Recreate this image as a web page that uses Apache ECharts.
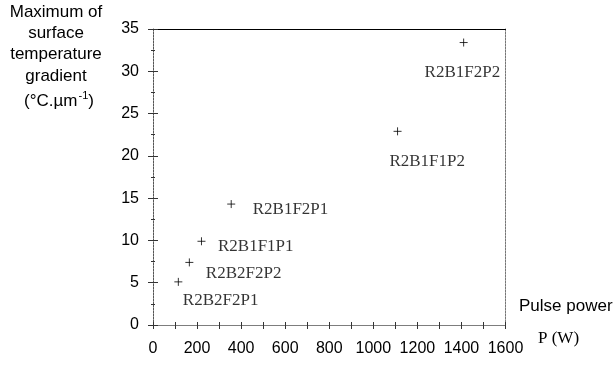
<!DOCTYPE html>
<html>
<head>
<meta charset="utf-8">
<script src="https://cdn.jsdelivr.net/npm/echarts@6/dist/echarts.min.js"></script>
<style>
  html, body { margin: 0; padding: 0; background: #ffffff; }
  #chart { width: 615px; height: 365px; }
</style>
</head>
<body>
<div id="chart"></div>
<script>
// Samples: pulse power (W) vs. maximum surface temperature gradient (°C/µm)
const sampleNames = ['R2B2F2P1', 'R2B2F2P2', 'R2B1F1P1', 'R2B1F2P1', 'R2B1F1P2', 'R2B1F2P2'];
const pulsePower  = [115, 165, 220, 355, 1110, 1410];
const maxGradient = [5.1, 7.4, 9.9, 14.3, 22.9, 33.4];

// Axis tick values
const xTicks = [0, 200, 400, 600, 800, 1000, 1200, 1400, 1600];
const yTicks = [0, 5, 10, 15, 20, 25, 30, 35];

// Label placement relative to each marker: [dx to text's left edge, dy to text's middle], px
const labelOffsets = [[5, 19], [17, 12], [17, 5.5], [22, 6], [-7.6, 30.5], [-38.6, 30.5]];

const MARK_SIZE = 8;
const SANS = '"Liberation Sans", Arial, sans-serif';
const SERIF = '"Liberation Serif", "Times New Roman", serif';
const TICK_COLOR = '#333';
const TEXT_COLOR = '#000';

const chart = echarts.init(document.getElementById('chart'), null, { renderer: 'canvas' });

const plainNumber = v => String(v);

const xBase = {
  type: 'value',
  min: xTicks[0],
  max: xTicks[xTicks.length - 1],
  interval: xTicks[1] - xTicks[0],
  splitLine: { show: false }
};
const yBase = {
  type: 'value',
  min: yTicks[0],
  max: yTicks[yTicks.length - 1],
  interval: yTicks[1] - yTicks[0],
  splitLine: { show: false }
};

const points = sampleNames.map((name, i) => ({
  name: name,
  value: [pulsePower[i], maxGradient[i]],
  label: {
    position: [labelOffsets[i][0] + MARK_SIZE / 2, labelOffsets[i][1] + MARK_SIZE / 2]
  }
}));

chart.setOption({
  animation: false,
  backgroundColor: '#ffffff',
  grid: { left: 153, right: 109.5, top: 29, bottom: 40, containLabel: false },
  xAxis: [
    Object.assign({}, xBase, {
      position: 'bottom',
      axisLine: { onZero: false, lineStyle: { color: '#7d7d7d', width: 1 } },
      axisTick: { show: true, length: 4, lineStyle: { color: TICK_COLOR } },
      minorTick: { show: true, splitNumber: 2, length: 4, lineStyle: { color: TICK_COLOR } },
      axisLabel: { fontFamily: SANS, fontSize: 16, color: TEXT_COLOR, margin: 16, formatter: plainNumber }
    }),
    Object.assign({}, xBase, {
      position: 'bottom',
      axisLine: { show: false, onZero: false },
      axisTick: { show: true, inside: true, length: 3, lineStyle: { color: TICK_COLOR } },
      minorTick: { show: true, splitNumber: 2, length: 3, lineStyle: { color: TICK_COLOR } },
      axisLabel: { show: false }
    }),
    Object.assign({}, xBase, {
      position: 'top',
      axisLine: { onZero: false, lineStyle: { color: '#000', width: 1.2 } },
      axisTick: { show: false },
      axisLabel: { show: false }
    })
  ],
  yAxis: [
    Object.assign({}, yBase, {
      position: 'left',
      axisLine: { onZero: false, lineStyle: { color: '#555', width: 1, type: [2, 1] } },
      axisTick: { show: true, length: 5, lineStyle: { color: TICK_COLOR } },
      minorTick: { show: true, splitNumber: 2, length: 2, lineStyle: { color: TICK_COLOR } },
      axisLabel: { fontFamily: SANS, fontSize: 16, color: TEXT_COLOR, margin: 14, formatter: plainNumber }
    }),
    Object.assign({}, yBase, {
      position: 'left',
      axisLine: { show: false, onZero: false },
      axisTick: { show: true, inside: true, length: 5, lineStyle: { color: TICK_COLOR } },
      minorTick: { show: true, splitNumber: 2, length: 2, lineStyle: { color: TICK_COLOR } },
      axisLabel: { show: false }
    }),
    Object.assign({}, yBase, {
      position: 'right',
      axisLine: { onZero: false, lineStyle: { color: '#777', width: 1, type: [2, 1] } },
      axisTick: { show: false },
      axisLabel: { show: false }
    })
  ],
  series: [{
    type: 'scatter',
    xAxisIndex: 0,
    yAxisIndex: 0,
    symbol: 'path://M5,0L5,10M0,5L10,5',
    symbolSize: MARK_SIZE,
    itemStyle: { color: 'rgba(0,0,0,0)', borderColor: '#000', borderWidth: 1 },
    label: {
      show: true,
      formatter: '{b}',
      align: 'left',
      verticalAlign: 'middle',
      fontFamily: SERIF,
      fontSize: 17,
      color: TEXT_COLOR
    },
    emphasis: { disabled: true },
    data: points
  }],
  graphic: [
    {
      type: 'text',
      x: 56, y: 1.5,
      style: {
        text: 'Maximum of\nsurface\ntemperature\ngradient',
        align: 'center', verticalAlign: 'top',
        font: '17px ' + SANS, lineHeight: 21.3, fill: TEXT_COLOR
      }
    },
    {
      type: 'text',
      x: 59, y: 101,
      style: {
        text: '(°C.µm{sup|-1})',
        align: 'center', verticalAlign: 'middle',
        font: '17px ' + SANS, lineHeight: 21, fill: TEXT_COLOR,
        rich: { sup: { fontSize: 11, fontFamily: SANS, verticalAlign: 'top', lineHeight: 21, padding: [0, 0, 0, 1] } }
      }
    },
    {
      type: 'text',
      x: 519, y: 306,
      style: {
        text: 'Pulse power',
        align: 'left', verticalAlign: 'middle',
        font: '17px ' + SANS, fill: TEXT_COLOR
      }
    },
    {
      type: 'text',
      x: 538, y: 339,
      style: {
        text: 'P (W)',
        align: 'left', verticalAlign: 'middle',
        font: '17px ' + SERIF, fill: TEXT_COLOR
      }
    }
  ]
});
</script>
</body>
</html>
